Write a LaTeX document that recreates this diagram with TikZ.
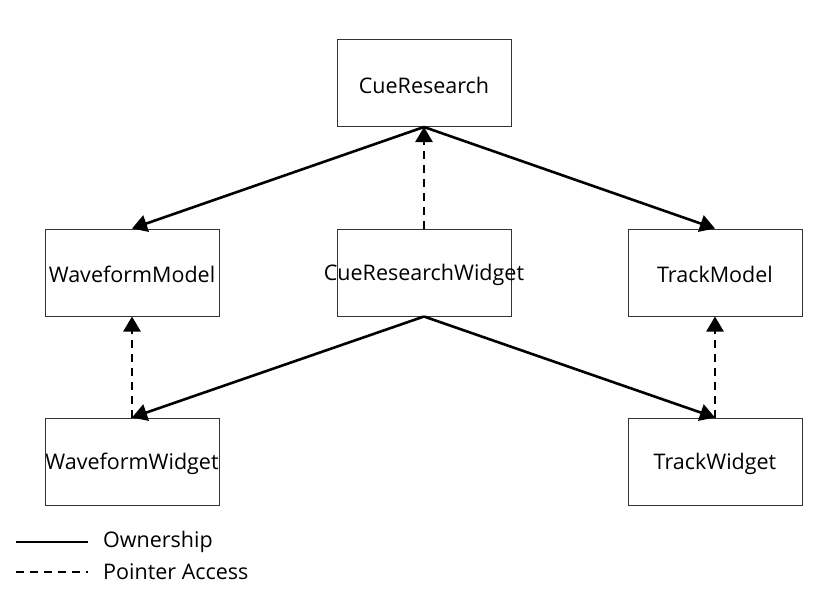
\documentclass[tikz,border=0pt]{standalone}
\usepackage{fontspec}
\setmainfont{Open Sans}
\usetikzlibrary{arrows.meta}
\begin{document}
\begin{tikzpicture}[x=1pt,y=-1pt,
  box/.style={draw=black!80,line width=1pt,minimum width=174pt,minimum height=87pt,inner sep=0pt},
  lbl/.style={inner sep=0pt,font=\fontsize{21.5}{24}\selectfont,yshift=-2pt},
  own/.style={line width=2.6pt,-{Triangle[width=17pt,length=15pt]}},
  ptr/.style={line width=2.6pt,dash pattern=on 8pt off 6pt,-{Triangle[width=17pt,length=15pt]}},
  lg/.style={font=\fontsize{21.5}{24}\selectfont,anchor=west,inner sep=0pt}]
\useasboundingbox (0,0) rectangle (816,592);
\node[box] (cr) at (424,83) {};
\node[box] (wm) at (132,272.5) {};
\node[box] (crw) at (424,272.5) {};
\node[box] (tm) at (715,272.5) {};
\node[box] (ww) at (132,461.5) {};
\node[box] (tw) at (715,461.5) {};
\node[lbl] (crt) at (cr) {CueResearch};
\node[lbl] (wmt) at (wm) {WaveformModel};
\node[lbl] (crwt) at (crw) {CueResearchWidget};
\node[lbl] (tmt) at (tm) {TrackModel};
\node[lbl] (wwt) at (ww) {WaveformWidget};
\node[lbl] (twt) at (tw) {TrackWidget};
\draw[own] (cr.south) -- (wm.north);
\draw[own] (cr.south) -- (tm.north);
\draw[ptr] (crw.north) -- (cr.south);
\draw[own] (crw.south) -- (ww.north);
\draw[own] (crw.south) -- (tw.north);
\draw[ptr] (ww.north) -- (wm.south);
\draw[ptr] (tw.north) -- (tm.south);
\coordinate (l1a) at (16,542);
\coordinate (l1b) at (88,542);
\coordinate (l2a) at (16,572);
\coordinate (l2b) at (88,572);
\draw[line width=2.2pt] (l1a) -- (l1b);
\draw[line width=2.2pt,dash pattern=on 8pt off 6pt] (l2a) -- (l2b);
\node[lg] (t1) at (103,542) {Ownership};
\node[lg] (t2) at (103,572) {Pointer Access};
\end{tikzpicture}
\end{document}
